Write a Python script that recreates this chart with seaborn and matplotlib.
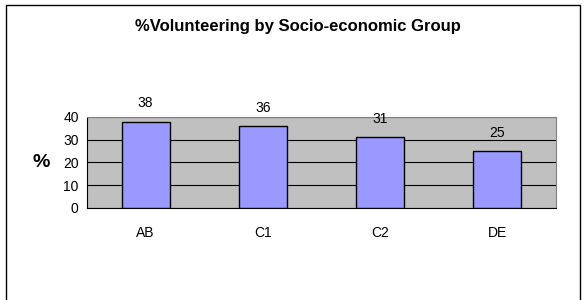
import matplotlib
matplotlib.use("Agg")
import matplotlib.pyplot as plt
from matplotlib.patches import Rectangle
import pandas as pd
import seaborn as sns

# datos del grafico
grupos = ["AB", "C1", "C2", "DE"]
porcentajes = [38, 36, 31, 25]
ticks_y = [0, 10, 20, 30, 40]

df = pd.DataFrame({"grupo": grupos, "pct": porcentajes})

sns.set_style("white")
plt.rcParams["font.family"] = ["Liberation Sans", "DejaVu Sans"]
plt.rcParams["text.color"] = "black"
plt.rcParams["xtick.color"] = "black"
plt.rcParams["ytick.color"] = "black"
plt.rcParams["axes.labelcolor"] = "black"

fig = plt.figure(figsize=(5.85, 3.0), dpi=100)
fig.patch.set_facecolor("white")

# marco exterior estilo Excel
fig.patches.append(Rectangle((0.010, -0.2), 0.981, 1.183, transform=fig.transFigure,
                             fill=False, edgecolor="black", linewidth=1.0))

ax = fig.add_axes([0.1487, 0.3067, 0.8017, 0.3033])
ax.set_facecolor("#C0C0C0")

sns.barplot(data=df, x="grupo", y="pct", color="#9999FF", edgecolor="black",
            linewidth=1.0, width=0.41, saturation=1, ax=ax, zorder=3)

ax.set_ylim(0, 40)
ax.set_xlim(-0.5, 3.5)
ax.set_yticks(ticks_y)
ax.yaxis.grid(True, color="black", linewidth=0.8, zorder=1)
ax.set_axisbelow(True)

# etiquetas de valor
for cont in ax.containers:
    ax.bar_label(cont, padding=8, fontsize=10, color="black")

# ticks entre categorias
ax.set_xticks(range(len(grupos)))
ax.set_xticklabels(grupos, fontsize=10)
ax.set_xticks([-0.5, 0.5, 1.5, 2.5, 3.5], minor=True)
ax.tick_params(axis="x", which="major", length=0, pad=13)
ax.tick_params(axis="x", which="minor", length=4, width=0.8, color="black", direction="out")
ax.tick_params(axis="y", length=4, width=0.8, color="black", direction="out", labelsize=10, pad=2)

for lado in ["left", "bottom"]:
    ax.spines[lado].set_color("black")
    ax.spines[lado].set_linewidth(0.8)
for lado in ["top", "right"]:
    ax.spines[lado].set_color("#808080")
    ax.spines[lado].set_linewidth(0.8)

ax.set_xlabel("")
ax.set_ylabel("%", fontsize=14, fontweight="bold", rotation=0, labelpad=16, va="center")

fig.text(0.51, 0.913, "%Volunteering by Socio-economic Group", ha="center", va="center",
         fontsize=12, fontweight="bold")

plt.savefig("out.png", dpi=100)
